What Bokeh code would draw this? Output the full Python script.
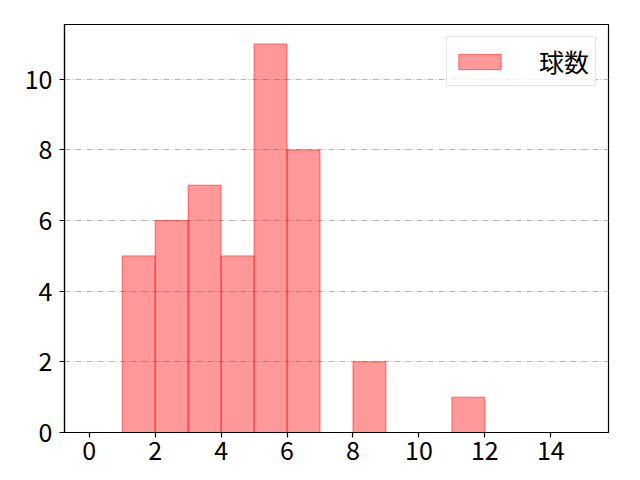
from bokeh.plotting import figure
from bokeh.models import FixedTicker, Range1d, Legend, LegendItem
from bokeh.embed import file_html
from bokeh.resources import INLINE

bin_left = [1, 2, 3, 4, 5, 6, 8, 11]
counts = [5, 6, 7, 5, 11, 8, 2, 1]
bin_width = 1
x_ticks = [0, 2, 4, 6, 8, 10, 12, 14]
y_ticks = [0, 2, 4, 6, 8, 10]
label = "球数"

FONT = "Noto Sans CJK JP"

p = figure(width=640, height=480, output_backend="svg", toolbar_location=None,
           x_range=Range1d(-0.75, 15.75), y_range=Range1d(0, 11.55),
           min_border_left=64, min_border_right=32, min_border_top=24, min_border_bottom=48)

bin_right = [b + bin_width for b in bin_left]
r = p.quad(left=bin_left, right=bin_right, bottom=0, top=counts,
           fill_color="red", fill_alpha=0.4, line_color="red", line_alpha=0.5, line_width=1)

p.outline_line_color = "black"
p.outline_line_width = 1.2
p.background_fill_color = "white"
p.border_fill_color = "white"

for ax in (p.xaxis[0], p.yaxis[0]):
    ax.axis_line_color = "black"
    ax.axis_line_width = 1.2
    ax.major_tick_line_color = "black"
    ax.major_tick_line_width = 1.2
    ax.major_tick_out = 5
    ax.major_tick_in = 0
    ax.minor_tick_line_color = None
    ax.major_label_text_font = FONT
    ax.major_label_text_font_size = "25px"
    ax.major_label_text_color = "black"

p.xaxis[0].major_label_standoff = 3
p.yaxis[0].major_label_standoff = 7
p.xaxis[0].ticker = FixedTicker(ticks=x_ticks)
p.yaxis[0].ticker = FixedTicker(ticks=y_ticks)

p.xgrid.grid_line_color = None
p.ygrid.grid_line_color = "#b0b0b0"
p.ygrid.grid_line_width = 0.9
p.ygrid.grid_line_dash = "6 2 1 2"
p.ygrid.ticker = FixedTicker(ticks=y_ticks)

legend = Legend(items=[LegendItem(label=label, renderers=[r])], location="top_right")
legend.label_text_font = FONT
legend.label_text_font_size = "25px"
legend.label_text_line_height = 1.0
legend.label_text_color = "black"
legend.glyph_width = 53
legend.glyph_height = 19
legend.label_standoff = 33
legend.padding = 6
legend.margin = 12
legend.spacing = 0
legend.border_line_color = "#cccccc"
legend.border_line_width = 1
legend.background_fill_alpha = 0.8
p.add_layout(legend)

open("out.html", "w").write(file_html(p, INLINE))
